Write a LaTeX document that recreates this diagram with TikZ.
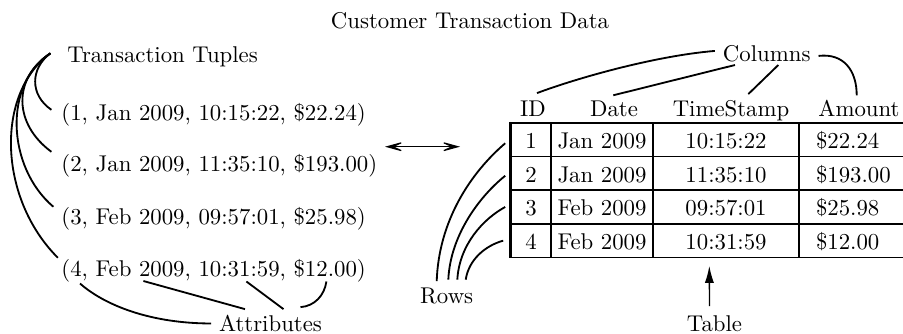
\documentclass[tikz,border=0pt]{standalone}
\usetikzlibrary{arrows.meta,calc}
\begin{document}
\begin{tikzpicture}[x=0.4386pt, y=-0.4386pt,
  link/.style={line width=0.8pt},
  dbl/.style={line width=0.5pt,
    arrows={Stealth[length=10pt,width=5.5pt,inset=6pt]-Stealth[length=10pt,width=5.5pt,inset=6pt]}},
  tarrow/.style={line width=0.6pt, arrows={-Latex[length=7.5pt,width=4pt]}},
  cell/.style={draw, line width=0.7pt, inner sep=0pt, minimum height=14.78pt,
    text height=7.7pt, text depth=0pt},
  idc/.style={cell, minimum width=17.54pt},
  datec/.style={cell, minimum width=44.74pt},
  tsc/.style={cell, minimum width=64.04pt},
  amtc/.style={cell, text width=44.74pt, align=left, inner xsep=7.46pt, minimum width=59.65pt},
]
\useasboundingbox (0,0) rectangle (903,333);
\clip (0,0) rectangle (903,333);

% labels
\node[anchor=base] (title) at (470,28) {Customer Transaction Data};
\node[anchor=base west] (tt) at (59.4,62) {Transaction Tuples};
\node[anchor=base] (attr) at (270.5,331.5) {Attributes};
\node[anchor=base] (rows) at (446.7,303.3) {Rows};
\node[anchor=base] (tbl) at (714.5,331.5) {Table};
\node[anchor=base] (cols) at (766.7,61.7) {Columns};

% tuples
\node[anchor=base west] (t1) at (53.4,120.5) {(1, Jan 2009, 10:15:22, \$22.24)};
\node[anchor=base west] (t2) at (53.4,171) {(2, Jan 2009, 11:35:10, \$193.00)};
\node[anchor=base west] (t3) at (53.4,224) {(3, Feb 2009, 09:57:01, \$25.98)};
\node[anchor=base west] (t4) at (53.4,276.5) {(4, Feb 2009, 10:31:59, \$12.00)};

% table header
\node[anchor=base] (hid) at (533,116.7) {ID};
\node[anchor=base] (hdate) at (614,116.7) {Date};
\node[anchor=base] (hts) at (731,116.7) {TimeStamp};
\node[anchor=base] (hamt) at (859,116.7) {Amount};

% table body
\node[idc] (id1) at (531,139.55) {1};
\node[datec] (d1) at (602,139.55) {Jan 2009};
\node[tsc] (ts1) at (726,139.55) {10:15:22};
\node[amtc] (a1) at (867,139.55) {\$22.24};
\node[idc] (id2) at (531,173.25) {2};
\node[datec] (d2) at (602,173.25) {Jan 2009};
\node[tsc] (ts2) at (726,173.25) {11:35:10};
\node[amtc] (a2) at (867,173.25) {\$193.00};
\node[idc] (id3) at (531,206.95) {3};
\node[datec] (d3) at (602,206.95) {Feb 2009};
\node[tsc] (ts3) at (726,206.95) {09:57:01};
\node[amtc] (a3) at (867,206.95) {\$25.98};
\node[idc] (id4) at (531,240.65) {4};
\node[datec] (d4) at (602,240.65) {Feb 2009};
\node[tsc] (ts4) at (726,240.65) {10:31:59};
\node[amtc] (a4) at (867,240.65) {\$12.00};
\draw[line width=1.1pt] (id1.north west) -- (id4.south west);

% tuple fan
\coordinate (hub) at ($(tt.west)+(-9,-3)$);
\draw[link] (hub) .. controls +(-20,15) and +(-22,-15) .. ($(t1.west)+(-2,-5)$);
\draw[link] (hub) .. controls +(-38,25) and +(-38,-28) .. ($(t2.west)+(-2,-13.5)$);
\draw[link] (hub) .. controls +(-47,30) and +(-47,-40) .. ($(t3.west)+(0,-11.5)$);
\draw[link] (hub) .. controls +(-55,40) and +(-60,-60) .. ($(t4.west)+(4.5,-13)$);

% attributes
\draw[link] (attr.west) .. controls +(-60,0) and +(25,22) .. ($(t4.base west)+(26.6,7)$);
\draw[link] ($(t4.base west)+(90,4.5)$) -- ($(attr.north)+(-25.5,2)$);
\draw[link] ($(t4.base west)+(193,5)$) -- ($(attr.north)+(13,2)$);
\draw[link] ($(t4.base west)+(273,5)$) .. controls +(-2,14) and +(14,-1) .. ($(attr.north)+(30,0)$);

% columns
\draw[link] ($(cols.west)+(0,-3)$) .. controls +(-60,5) and +(40,-15) .. ($(hid.north)+(4,0)$);
\draw[link] ($(cols.base)+(-31.7,3.3)$) -- ($(hdate.north)+(-0.7,2.2)$);
\draw[link] ($(cols.base)+(11.6,3.3)$) -- ($(hts.north)+(17.3,1.5)$);
\draw[link] ($(cols.east)+(0,2)$) .. controls +(25,-3) and +(0,-25) .. ($(hamt.north)+(-2.3,3)$);

% rows
\draw[link] ($(rows.north)+(-10,1.5)$) .. controls +(2,-60) and +(-35,30) .. ($(id1.west)+(-5,3.7)$);
\draw[link] ($(rows.north)+(1.6,0)$) .. controls +(2,-45) and +(-25,20) .. ($(id2.west)+(-5,2.5)$);
\draw[link] ($(rows.north)+(10.6,0)$) .. controls +(2,-35) and +(-22,12) .. ($(id3.west)+(-5,0)$);
\draw[link] ($(rows.north)+(19,0)$) .. controls +(3,-20) and +(-18,5) .. ($(id4.west)+(-7,0)$);

% tuples <-> table
\coordinate (la) at (385,146.7);
\coordinate (ra) at (460,146.7);
\draw[dbl] (la) -- (ra);

% table pointer
\draw[tarrow] ($(tbl.north)+(-5,-1.5)$) -- ($(ts4.south)+(-16.7,7.5)$);
\end{tikzpicture}
\end{document}
